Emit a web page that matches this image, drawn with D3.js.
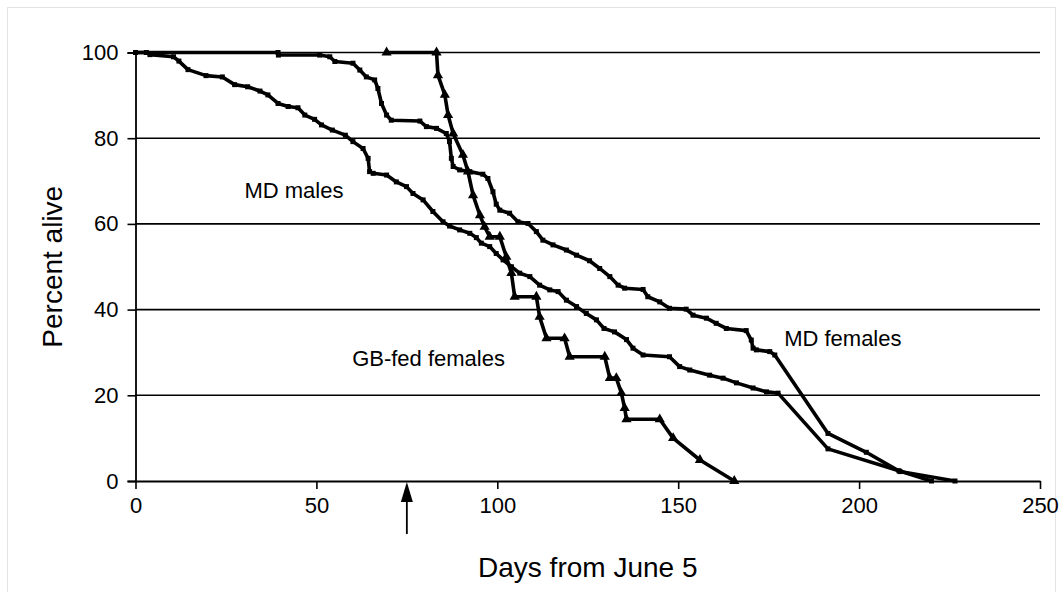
<!DOCTYPE html>
<html>
<head>
<meta charset="utf-8">
<script src="https://cdn.jsdelivr.net/npm/d3@7"></script>
<style>
  body { margin: 0; background: #fff; }
  svg text { font-family: Arial, "Liberation Sans", sans-serif; fill: #000; }
</style>
</head>
<body>
<svg width="1063" height="592"></svg>
<script>
// survival curves: [day, percent alive]
const mdMales = [
  [0,100],[3,100],[4,99.5],[10.5,99],[12,98],[14.5,96],[19.5,94.6],[24,94.3],[27.4,92.5],[31,92],
  [34.4,91],[36.6,90.1],[39.4,88.1],[42.2,87.4],[44.9,87.1],[46.8,85.4],[49.5,84.4],[51.4,83.1],
  [54.4,81.9],[58,80.7],[60.1,79.2],[62.9,77.6],[64.3,75.3],[64.7,72.2],[65.7,71.8],[69.4,71.4],
  [72.1,69.8],[74.9,68.7],[76.7,67.1],[79.5,65.6],[82.2,62.9],[85,60.5],[86.8,59.5],[89.6,58.6],
  [92.4,57.8],[94.2,56.8],[95.6,55.5],[97.9,54.7],[99.7,53.1],[101.6,51.6],[103.9,50],[106.2,48.5],
  [109,47.7],[111.7,45.7],[114.5,44.6],[116.8,44.2],[119.1,42.2],[121.9,40.7],[124.6,39.1],
  [127.4,37.6],[129.5,35.6],[132.4,34.8],[135.7,33],[137.5,31],[140.3,29.4],[147.6,29],[150.4,26.7],
  [153.2,25.9],[158.7,24.7],[162.4,24],[166.1,22.9],[170.7,21.7],[174.4,20.8],[177.6,20.5],
  [191.4,7.5],[211,2.4],[220,0]
];
const mdFemales = [
  [0,100],[39.4,100],[39.5,99.4],[50.9,99.4],[53.7,99],[55.1,97.9],[60.1,97.5],[62,95.9],[63.8,94.3],
  [66.1,93.6],[67,91.6],[68,88.1],[69.4,85.4],[70.7,84.2],[78.6,84],[80.4,82.7],[83.2,82.3],[85.9,81.1],
  [86.8,79.2],[87.3,75.3],[87.8,73.4],[89.6,72.6],[92.4,72.2],[96,71.6],[97.4,70.6],[98.8,67.5],
  [99.7,64.6],[100.7,63.2],[103.4,62.5],[105.7,60.5],[108.5,60.1],[110.8,58.2],[112.6,56.2],
  [115.4,55.1],[119.1,53.9],[121.9,52.7],[125.5,51.4],[128.3,49.6],[131.1,47.7],[133.4,45.7],
  [135.2,45],[140.3,44.7],[141.6,43],[144.9,41.8],[147.6,40.3],[152.2,40.1],[154.1,38.7],[157.8,38],
  [160.5,36.8],[163.3,35.6],[168.8,35.1],[170.2,32.9],[170.7,31],[171.6,30.6],[175.3,30.2],
  [176.7,29.4],[191.4,11.1],[202,6.7],[211.3,2.2],[226.5,0]
];
const gbFemales = [
  [69.4,100],[83.2,100],[83.6,94.7],[85.5,90.1],[86.4,85.4],[87.8,81.1],[90.5,76.1],[91.9,72.2],
  [93.3,66.7],[95.2,62],[96.5,59.3],[97.9,57],[100.7,57],[102.5,52.3],[103.9,48.5],[104.8,43],
  [110.8,43],[111.7,38.3],[113.6,33.3],[118.6,33.3],[120,29],[129.7,29],[131.1,24],[132.9,24],
  [134.3,20.5],[135.2,17],[135.7,14.4],[144.9,14.4],[148.6,10],[156,4.9],[165.5,0]
];
const xTicks = [0, 50, 100, 150, 200, 250];
const yTicks = [0, 20, 40, 60, 80, 100];
const labels = [
  { text: "MD males", day: 43.8, pct: 66 },
  { text: "GB-fed females", day: 81, pct: 26.8 },
  { text: "MD females", day: 195.5, pct: 31.5 }
];
const arrowDay = 75;

const svg = d3.select("svg");
const margin = { top: 52.5, right: 23, bottom: 111, left: 135.5 };
const width = +svg.attr("width");
const height = +svg.attr("height");
const innerWidth = width - margin.left - margin.right;
const innerHeight = height - margin.top - margin.bottom;
const font = "Arial, 'Liberation Sans', sans-serif";

// light frame round the figure
svg.append("rect")
  .attr("x", 7.5).attr("y", 7.5)
  .attr("width", 1048).attr("height", 600)
  .attr("fill", "none").attr("stroke", "#e3e3e3");

const g = svg.append("g").attr("transform", `translate(${margin.left},${margin.top})`);

const xScale = d3.scaleLinear().domain([0, 250]).range([0, innerWidth]);
const yScale = d3.scaleLinear().domain([0, 100]).range([innerHeight, 0]);

// gridlines
g.selectAll(".grid").data(yTicks.filter(d => d > 0))
  .enter().append("line")
  .attr("x1", 0).attr("x2", innerWidth)
  .attr("y1", d => yScale(d)).attr("y2", d => yScale(d))
  .attr("stroke", "#000").attr("stroke-width", 1.6);

const yAxisG = g.append("g")
  .call(d3.axisLeft(yScale).tickValues(yTicks).tickSize(8).tickPadding(9))
  .attr("font-size", null).attr("font-family", null);
yAxisG.selectAll(".domain").attr("stroke-width", 1.8);
yAxisG.selectAll(".tick line").attr("stroke-width", 1.6);
yAxisG.selectAll("text").style("font-size", "22px").style("font-family", font);

const xAxisG = g.append("g")
  .attr("transform", `translate(0,${innerHeight})`)
  .call(d3.axisBottom(xScale).tickValues(xTicks).tickSize(8).tickPadding(8).tickSizeOuter(0))
  .attr("font-size", null).attr("font-family", null);
xAxisG.selectAll(".domain").attr("stroke-width", 1.8);
xAxisG.selectAll(".tick line").attr("stroke-width", 1.6);
xAxisG.selectAll("text").style("font-size", "22px").style("font-family", font);

// axis titles
g.append("text")
  .attr("transform", "rotate(-90)")
  .attr("x", -innerHeight / 2)
  .attr("y", -74)
  .attr("text-anchor", "middle")
  .style("font-size", "28px")
  .text("Percent alive");

g.append("text")
  .attr("x", innerWidth / 2)
  .attr("y", innerHeight + 96)
  .attr("text-anchor", "middle")
  .style("font-size", "28px")
  .text("Days from June 5");

// arrow marking day 75
const ax = xScale(arrowDay);
g.append("line")
  .attr("x1", ax).attr("x2", ax)
  .attr("y1", innerHeight + 18).attr("y2", innerHeight + 53)
  .attr("stroke", "#000").attr("stroke-width", 1.8);
g.append("path")
  .attr("d", `M${ax},${innerHeight + 1} L${ax - 6},${innerHeight + 21} L${ax + 6},${innerHeight + 21} Z`)
  .attr("fill", "#000");

const line = d3.line().x(d => xScale(d[0])).y(d => yScale(d[1]));

const series = [
  { data: mdMales, marker: "square" },
  { data: mdFemales, marker: "square" },
  { data: gbFemales, marker: "triangle" }
];

series.forEach(s => {
  g.append("path")
    .datum(s.data)
    .attr("fill", "none")
    .attr("stroke", "#000")
    .attr("stroke-width", 3.6)
    .attr("stroke-linejoin", "round")
    .attr("d", line);

  const sym = s.marker === "square"
    ? d3.symbol().type(d3.symbolSquare).size(25)
    : d3.symbol().type(d3.symbolTriangle).size(45);

  g.selectAll(null).data(s.data)
    .enter().append("path")
    .attr("transform", d => `translate(${xScale(d[0])},${yScale(d[1])})`)
    .attr("d", sym)
    .attr("fill", "#000");
});

// curve labels
g.selectAll(".curve-label").data(labels)
  .enter().append("text")
  .attr("x", d => xScale(d.day))
  .attr("y", d => yScale(d.pct))
  .attr("text-anchor", "middle")
  .style("font-size", "22px")
  .text(d => d.text);
</script>
</body>
</html>
